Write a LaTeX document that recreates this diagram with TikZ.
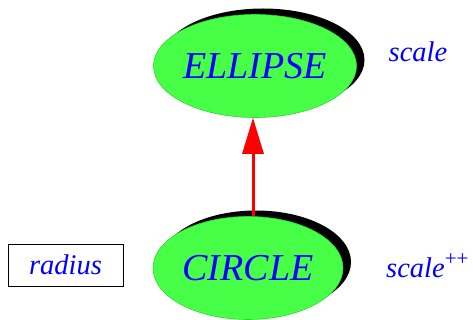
\documentclass[tikz,border=0pt]{standalone}
\usepackage{fontspec}
\setmainfont{Liberation Serif}
\usetikzlibrary{shapes.geometric,shadows,arrows.meta}
\definecolor{nodegreen}{RGB}{72,255,72}
\definecolor{edgegreen}{RGB}{40,220,40}
\tikzset{
  blob/.style={ellipse, fill=nodegreen, draw=edgegreen, line width=0.6pt,
    minimum width=190pt, minimum height=103pt, inner sep=0pt,
    text=blue, font=\fontsize{38}{40}\selectfont\itshape,
    drop shadow={shadow xshift=8pt, shadow yshift=6pt, fill=black, opacity=1}},
  lbl/.style={text=blue, font=\fontsize{28.5}{30}\selectfont\itshape, inner sep=0pt},
  boxlbl/.style={lbl, draw=black, line width=0.6pt, minimum width=115pt, minimum height=42pt},
  link/.style={red, line width=3pt, -{Triangle[length=36pt,width=21pt]}}
}
\begin{document}
\begin{tikzpicture}[x=1pt,y=-1pt]
\useasboundingbox (0,0) rectangle (473,320);
\node[blob] (e) at (255,66) {ELLIPSE};
\node[blob] (c) at (248,268) {CIRCLE};
\node[boxlbl] (r) at (65.5,265) {radius};
\node[lbl] (s1) at (418,52) {scale};
\node[lbl, anchor=base west] (s2) at (386,277) {scale\raisebox{0.42em}{\upshape\fontsize{21}{21}\selectfont ++}};
\draw[link] ([xshift=5pt]c.north) -- ([xshift=-2pt]e.south);
\end{tikzpicture}
\end{document}
